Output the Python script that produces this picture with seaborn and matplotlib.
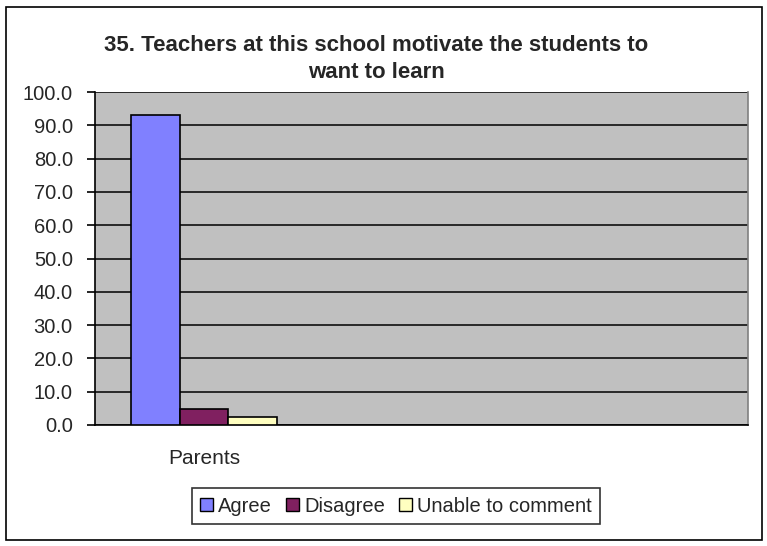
import matplotlib
matplotlib.use("Agg")
import matplotlib.pyplot as plt
import seaborn as sns
import pandas as pd
from matplotlib.patches import Rectangle

# Survey results (%)
groups = ["Parents", "Group 2", "Group 3"]
group_labels = ["Parents", "", ""]
responses = ["Agree", "Disagree", "Unable to comment"]
parents_values = [93.0, 4.7, 2.3]
colors = ["#8080FF", "#802060", "#FFFFC0"]
yticks = [0, 10, 20, 30, 40, 50, 60, 70, 80, 90, 100]

df = pd.DataFrame({
    "group": ["Parents"] * len(responses),
    "response": responses,
    "percent": parents_values,
})

sns.set_theme(style="white")
plt.rcParams["font.family"] = ["Liberation Sans", "DejaVu Sans"]

fig = plt.figure(figsize=(7.67, 5.46), dpi=100)
ax = fig.add_axes([95 / 767, 1 - 425 / 546, (748 - 95) / 767, (425 - 92) / 546])

sns.barplot(data=df, x="group", y="percent", hue="response",
            order=groups, hue_order=responses, palette=colors,
            width=0.67, gap=0, edgecolor="black", linewidth=1.2,
            saturation=1, legend=False, ax=ax, zorder=3)

ax.set_facecolor("#C0C0C0")
ax.set_ylim(0, 100)
ax.set_xlim(-0.5, len(groups) - 0.5)
ax.set_yticks(yticks)
ax.set_yticklabels([f"{v:.1f}" for v in yticks], fontsize=14.5)
ax.yaxis.grid(True, color="black", linewidth=1.1, zorder=0)
ax.set_axisbelow(True)

# category boundaries as major ticks, labels at centers
ax.set_xticks([i - 0.5 for i in range(len(groups) + 1)])
ax.set_xticklabels([])
ax.set_xticks(range(len(groups)), minor=True)
ax.set_xticklabels(group_labels, minor=True, fontsize=15)
ax.tick_params(axis="x", which="major", length=6, width=1.2, color="black", direction="inout")
ax.tick_params(axis="x", which="minor", length=0, pad=17)
ax.tick_params(axis="y", length=6, width=1.2, color="black", direction="out", left=True, pad=10)
ax.set_xlabel("")
ax.set_ylabel("")

for side in ["left", "bottom"]:
    ax.spines[side].set_color("black")
    ax.spines[side].set_linewidth(1.2)
ax.spines["top"].set_visible(False)
ax.spines["right"].set_color("#808080")
ax.spines["right"].set_linewidth(1.2)

fig.text(376 / 767, 1 - 59 / 546,
         "35. Teachers at this school motivate the students to\nwant to learn",
         ha="center", va="center", fontsize=16, fontweight="bold", linespacing=1.4)

handles = [Rectangle((0, 0), 1, 1, facecolor=c, edgecolor="black", linewidth=1) for c in colors]
leg = fig.legend(handles, responses, loc="center", bbox_to_anchor=(396 / 767, 1 - 506 / 546),
                 ncol=3, fontsize=14.5, frameon=True, fancybox=False, handlelength=0.65,
                 handleheight=0.65, handletextpad=0.25, columnspacing=0.7, borderpad=0.4)
leg.get_frame().set_edgecolor("black")
leg.get_frame().set_linewidth(1.2)

# outer chart border
fig.patches.append(Rectangle((6 / 767, 1 - 540 / 546), (762 - 6) / 767, (540 - 7) / 546,
                             transform=fig.transFigure, fill=False, edgecolor="black",
                             linewidth=1.2))

fig.savefig("out.png", dpi=100)
